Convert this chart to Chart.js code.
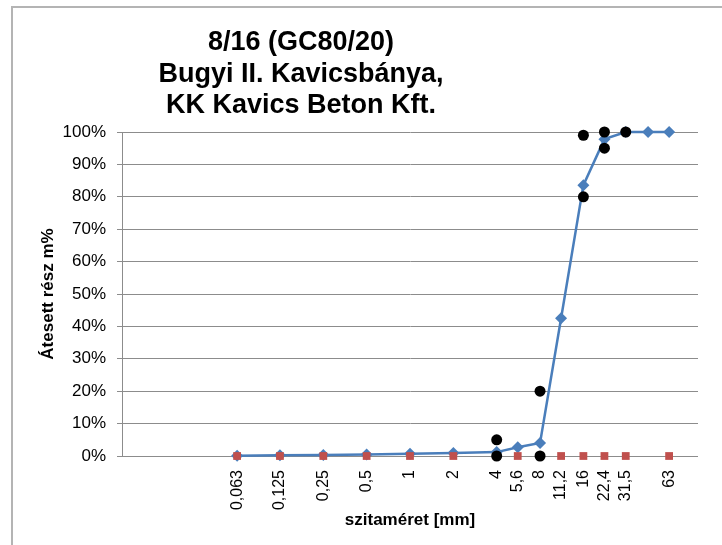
<!DOCTYPE html>
<html>
<head>
<meta charset="utf-8">
<script src="https://cdn.jsdelivr.net/npm/chart.js@4/dist/chart.umd.min.js"></script>
<style>
  body { margin: 0; background: #fff; }
  #wrap { position: relative; width: 722px; height: 545px; }
</style>
</head>
<body>
<div id="wrap"><canvas id="gradingChart" width="722" height="545"></canvas></div>
<script>
// sieve sizes shown on the x axis (mm)
const sieveSizes = [0.063, 0.125, 0.25, 0.5, 1, 2, 4, 5.6, 8, 11.2, 16, 22.4, 31.5, 63];
const sieveZero = [0, 0, 0, 0, 0, 0, 0, 0, 0, 0, 0, 0, 0, 0];

// measured grading curve
const passX = [0.063, 0.125, 0.25, 0.5, 1, 2, 4, 5.6, 8, 11.2, 16, 22.4, 31.5, 45, 63];
const passY = [0.1, 0.2, 0.3, 0.5, 0.7, 0.9, 1.2, 2.7, 4.0, 42.5, 83.6, 97.8, 100, 100, 100];

// GC80/20 limit points
const limitX = [4, 4, 8, 8, 16, 16, 22.4, 22.4, 31.5];
const limitY = [0, 5, 0, 20, 80, 99, 95, 100, 100];

const yTicks = [0, 10, 20, 30, 40, 50, 60, 70, 80, 90, 100];

const titleLines = ['8/16 (GC80/20)', 'Bugyi II. Kavicsbánya,', 'KK Kavics Beton Kft.'];

Chart.defaults.font.family = "'Liberation Sans', Arial, sans-serif";
Chart.defaults.color = '#000';

const toPoints = (xs, ys) => xs.map((x, i) => ({ x: x, y: ys[i] }));

// white background, frame and title
const framePlugin = {
    id: 'frame',
    beforeDraw(chart) {
        const c = chart.ctx;
        c.save();
        c.fillStyle = '#fff';
        c.fillRect(0, 0, chart.width, chart.height);
        c.strokeStyle = '#b4b4b4';
        c.lineWidth = 2;
        c.beginPath();
        c.moveTo(12, chart.height);
        c.lineTo(12, 7);
        c.lineTo(chart.width, 7);
        c.stroke();
        c.restore();
    },
    afterDraw(chart) {
        const c = chart.ctx;
        c.save();
        c.fillStyle = '#000';
        c.font = "bold 27px 'Liberation Sans', Arial, sans-serif";
        c.textAlign = 'center';
        c.textBaseline = 'alphabetic';
        titleLines.forEach((t, i) => c.fillText(t, 301, 50 + i * 31.5));
        c.restore();
    }
};

new Chart(document.getElementById('gradingChart').getContext('2d'), {
    type: 'scatter',
    data: {
        datasets: [
            {
                label: 'limits',
                data: toPoints(limitX, limitY),
                pointStyle: 'circle',
                pointRadius: 5.5,
                pointBackgroundColor: '#000',
                pointBorderWidth: 0,
                showLine: false,
                clip: false,
                order: 0
            },
            {
                label: 'sieves',
                data: toPoints(sieveSizes, sieveZero),
                pointStyle: 'rect',
                pointRadius: 5.5,
                pointBackgroundColor: '#C0504D',
                pointBorderWidth: 0,
                showLine: false,
                clip: false,
                order: 1
            },
            {
                label: 'passing',
                data: toPoints(passX, passY),
                showLine: true,
                borderColor: '#4A7EBB',
                borderWidth: 2.5,
                pointStyle: 'rectRot',
                pointRadius: 6,
                pointBackgroundColor: '#4A7EBB',
                pointBorderWidth: 0,
                clip: false,
                order: 2
            }
        ]
    },
    options: {
        responsive: false,
        animation: false,
        layout: { padding: { top: 132, right: 24, left: 0, bottom: 0 } },
        plugins: {
            legend: { display: false },
            tooltip: { enabled: false }
        },
        scales: {
            x: {
                type: 'logarithmic',
                min: 0.01,
                max: 100,
                afterBuildTicks(s) { s.ticks = sieveSizes.map(v => ({ value: v })); },
                afterFit(s) { s.height = 89; },
                grid: { display: false, drawTicks: false },
                border: { display: false },
                ticks: {
                    autoSkip: false,
                    minRotation: 90,
                    maxRotation: 90,
                    padding: 14,
                    font: { size: 16 },
                    callback: v => String(v).replace('.', ',')
                },
                title: {
                    display: true,
                    text: 'szitaméret [mm]',
                    font: { size: 17, weight: 'bold' },
                    padding: { top: 0, bottom: 14 }
                }
            },
            y: {
                min: 0,
                max: 100,
                afterBuildTicks(s) { s.ticks = yTicks.map(v => ({ value: v })); },
                afterFit(s) { s.width = 122; },
                grid: { color: '#8c8c8c', tickLength: 5 },
                border: { color: '#8c8c8c' },
                ticks: {
                    padding: 11,
                    font: { size: 17 },
                    callback: v => v + '%'
                },
                title: {
                    display: true,
                    text: 'Átesett rész m%',
                    font: { size: 17, weight: 'bold' },
                    padding: { top: 38, bottom: 0 }
                }
            }
        }
    },
    plugins: [framePlugin]
});
</script>
</body>
</html>
